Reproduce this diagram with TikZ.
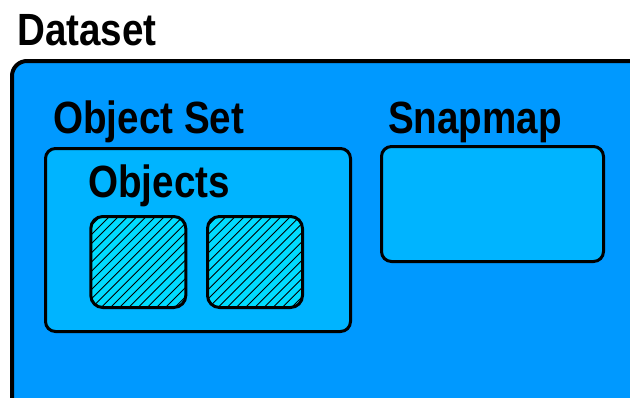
\documentclass[tikz,border=0pt]{standalone}
\usepackage{fontspec}
\setmainfont{Liberation Sans}
\definecolor{datasetblue}{RGB}{0,153,255}
\definecolor{innerblue}{RGB}{0,180,255}
\definecolor{objcyan}{RGB}{0,220,255}
\newcommand{\tallbf}[1]{\scalebox{1}[1.17]{#1}}
\tikzset{
  heading/.style={anchor=base west, inner sep=0pt, font=\fontsize{38.6}{40}\selectfont\bfseries},
  container/.style={draw=black, line width=3pt, rounded corners=10pt, fill=innerblue},
  objbox/.style={draw=black, line width=3pt, rounded corners=12pt, fill=objcyan},
  hatchline/.style={draw=black, line width=0.9pt},
}
% hatched object box: lower-left corner (#1,#2), upper-right corner (#3,#4)
\newcommand{\objectbox}[4]{%
  \fill[objcyan, rounded corners=12pt] (#1,#2) rectangle (#3,#4);
  \begin{scope}
    \clip[rounded corners=12pt] (#1,#2) rectangle (#3,#4);
    \foreach \k in {-100,-90.8,...,100}
      \draw[hatchline] (#1+\k,#2) -- ++(100,-100);
  \end{scope}
  \draw[objbox, fill=none] (#1,#2) rectangle (#3,#4);
}
\begin{document}
\begin{tikzpicture}[x=1pt,y=-1pt]
  \clip (0,0) rectangle (630,397);
  % dataset frame, running past the right and lower edges
  \draw[line width=4pt, rounded corners=15pt, fill=datasetblue] (12,61) rectangle (650,420);
  \node[heading] (dataset) at (17,45) {\tallbf{Dataset}};
  % object set with its two objects
  \node[heading] (objset) at (53,133) {\tallbf{Object Set}};
  \draw[container] (45.5,148.5) rectangle (350.5,331.5);
  \node[heading] (objects) at (88,197) {\tallbf{Objects}};
  \objectbox{90.8}{307.5}{185.8}{216.5}
  \objectbox{207.5}{307.5}{302.5}{216.5}
  % snapmap
  \node[heading] (snap) at (388,133) {\tallbf{Snapmap}};
  \draw[container] (381.5,146.5) rectangle (603.5,261.5);
\end{tikzpicture}
\end{document}
